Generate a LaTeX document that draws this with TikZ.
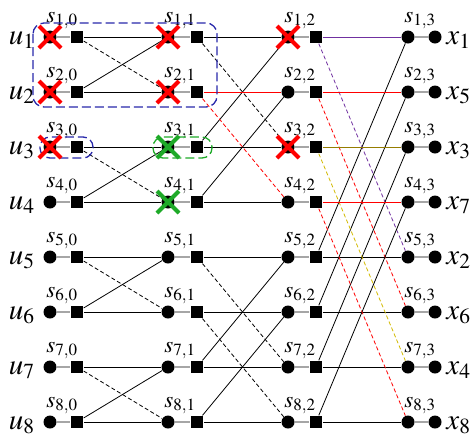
\documentclass[tikz,border=0pt]{standalone}
\usepackage{amsmath}
\usepackage{mathptmx}

\definecolor{cutgreen}{RGB}{30,170,40}
\definecolor{boxblue}{RGB}{40,40,170}
\definecolor{linkpurple}{RGB}{112,48,160}
\definecolor{linkolive}{RGB}{150,125,0}
\definecolor{linkyellow}{RGB}{210,185,0}

\begin{document}
\begin{tikzpicture}[x=1pt, y=-1pt, line width=0.8pt,
    vnode/.style={circle, fill=black, inner sep=0pt, minimum size=13pt},
    cnode/.style={rectangle, fill=black, inner sep=0pt, minimum size=12.5pt},
    slabel/.style={anchor=base west, inner sep=0pt, font=\fontsize{23}{24}\selectfont},
    iolabel/.style={inner sep=0pt, font=\fontsize{29}{30}\selectfont},
    link/.style={gray!70, line width=1.4pt},
    dsh/.style={dash pattern=on 4pt off 2.5pt},
    cut/.style={line width=4pt}]
    \useasboundingbox (0,0) rectangle (474,437);
    % variable and check nodes
    \foreach \i in {1,...,8} {
        \pgfmathsetmacro\yy{37+55*(\i-1)}
        \foreach \j/\xc/\xs in {0/50/77, 1/168/197, 2/288/316} {
            \node[vnode] (v\i-\j) at (\xc,\yy) {};
            \node[cnode] (c\i-\j) at (\xs,\yy) {};
            \draw[link] (v\i-\j) -- (c\i-\j);
            \node[slabel] (s\i-\j) at (\xc-4,\yy-15) {$s_{\i,\j}$};
        }
        \node[vnode] (v\i-3) at (408,\yy) {};
        \node[vnode] (o\i) at (435,\yy) {};
        \draw[link] (v\i-3) -- (o\i);
        \node[slabel] (s\i-3) at (404,\yy-15) {$s_{\i,3}$};
        \node[iolabel, anchor=base east] (u\i) at (35,\yy+7) {$u_{\i}$};
    }
    \foreach \i/\k in {1/1, 2/5, 3/3, 4/7, 5/2, 6/6, 7/4, 8/8}
        \node[iolabel, anchor=base west] (x\i) at (446,37+55*\i-55+7) {$x_{\k}$};
    % stage 0 -> 1
    \foreach \a/\b in {1/2, 3/4, 5/6, 7/8} {
        \draw (c\a-0) -- (v\a-1);
        \draw (c\b-0) -- (v\b-1);
        \draw (c\b-0) -- (v\a-1);
        \draw[dsh] (c\a-0) -- (v\b-1);
    }
    % stage 1 -> 2
    \foreach \a/\b/\col in {1/3/black, 2/4/red, 5/7/black, 6/8/black} {
        \draw[\col] (c\a-1) -- (v\a-2);
        \draw (c\b-1) -- (v\b-2);
        \draw (c\b-1) -- (v\a-2);
        \draw[dsh, \col] (c\a-1) -- (v\b-2);
    }
    % stage 2 -> 3
    \foreach \a/\b/\cs/\cd in {1/5/linkpurple/linkpurple, 2/6/red/red,
                               3/7/linkolive/linkyellow, 4/8/red/red} {
        \draw[\cs] (c\a-2) -- (v\a-3);
        \draw (c\b-2) -- (v\b-3);
        \draw (c\b-2) -- (v\a-3);
        \draw[dsh, \cd] (c\a-2) -- (v\b-3);
    }
    % frozen bits
    \draw[boxblue, dash pattern=on 9pt off 4pt, line width=1.3pt, rounded corners=11pt]
        (33,23) rectangle (217,107);
    \draw[boxblue, dash pattern=on 9pt off 4pt, line width=1.3pt, rounded corners=10pt]
        (40,137) rectangle (93,158);
    \draw[cutgreen, dash pattern=on 9pt off 4pt, line width=1.3pt, rounded corners=10pt]
        (153,137) rectangle (212,158);
    \foreach \n/\col in {v1-0/red, v2-0/red, v3-0/red, v1-1/red, v2-1/red,
                         v3-1/cutgreen, v4-1/cutgreen, v1-2/red, v3-2/red}
        \draw[cut, \col] (\n.center) ++(-11,-11) -- ++(22,22) ++(0,-22) -- ++(-22,22);
\end{tikzpicture}
\end{document}
